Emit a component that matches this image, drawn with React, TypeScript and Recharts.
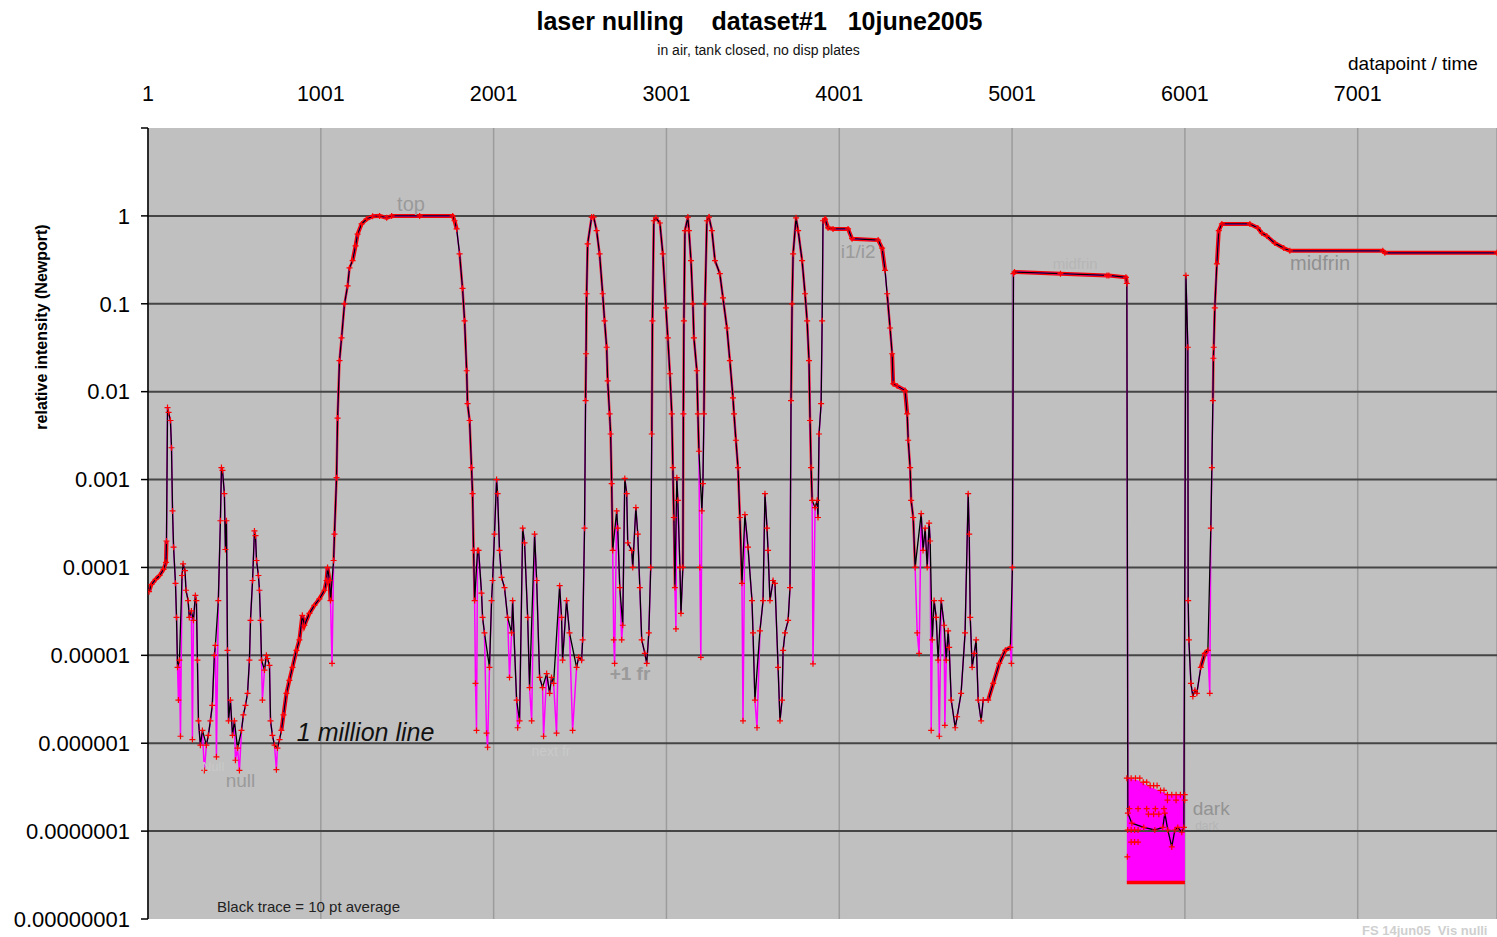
import React from 'react';
import { ComposedChart, Line, Area, XAxis, YAxis, CartesianGrid, ReferenceLine, ReferenceDot } from 'recharts';

const FONT = '"Liberation Sans", Arial, Helvetica, sans-serif';

// ---- axes ----
const xTicks = [1, 1001, 2001, 3001, 4001, 5001, 6001, 7001];
const yTicks = [1e-8, 1e-7, 1e-6, 1e-5, 1e-4, 1e-3, 1e-2, 1e-1, 1, 10];
const yTickLabels = ['0.00000001', '0.0000001', '0.000001', '0.00001', '0.0001', '0.001', '0.01', '0.1', '1', ''];
const gridDecades = [1e-7, 1e-6, 1e-5, 1e-4, 1e-3, 1e-2, 1e-1, 1];

// ---- black trace (10 pt average): [datapoint, intensity] ----
const traceStart: [number, number][] = [
  [7, 5.3e-5], [21, 6.4e-5], [45, 7.3e-5], [68, 8.1e-5], [91, 9.5e-5], [105, 1.14e-4], [108, 2.0e-4], [114, 6.6e-3],
  [120, 5.8e-3], [131, 4.7e-3], [137, 2.3e-3], [143, 4.4e-4], [149, 1.7e-4], [160, 6.6e-5], [166, 2.7e-5], [172, 7.3e-6],
  [183, 8.8e-6], [198, 8.1e-5], [204, 1.1e-4], [215, 9.2e-5], [221, 5.5e-5], [233, 4.2e-5], [240, 2.7e-5], [252, 3.2e-5],
  [264, 2.5e-5], [275, 4.8e-5], [281, 4.2e-5], [287, 8.8e-6], [293, 1.8e-6], [304, 9.5e-7], [316, 1.4e-6], [339, 9.5e-7],
  [350, 1.23e-6], [362, 1.8e-6], [373, 2.7e-6], [385, 1e-5], [391, 1.3e-5], [408, 4.2e-5], [420, 3.4e-4], [426, 1.37e-3],
  [432, 1.27e-3], [443, 6.9e-4], [449, 1.6e-4], [455, 3.4e-4], [461, 1.14e-5], [467, 1.8e-6], [478, 3.1e-6], [490, 1.23e-6],
  [501, 1.8e-6], [519, 8.8e-7], [542, 1.4e-6], [553, 2.1e-6], [565, 2.7e-6], [577, 3.7e-6], [588, 8.8e-6], [594, 2.5e-5],
  [606, 7.1e-5], [617, 2.6e-4], [623, 2.3e-4], [629, 1.2e-4], [640, 8.1e-5], [646, 5.5e-5], [652, 2.5e-5], [658, 8.8e-6],
  [675, 6.8e-6], [686, 1e-5], [692, 9.2e-6], [704, 7.7e-6], [710, 1.8e-6], [721, 1.23e-6], [733, 9.5e-7], [750, 8.8e-7],
  [762, 1.1e-6], [773, 1.4e-6], [785, 2.1e-6], [802, 3.7e-6], [819, 5.2e-6], [837, 7.3e-6], [860, 1.14e-5], [877, 1.5e-5],
  [894, 2.85e-5], [906, 2.2e-5], [935, 3.0e-5], [964, 3.7e-5], [993, 4.4e-5], [1022, 5.5e-5], [1034, 7.1e-5], [1040, 1.0e-4],
  [1051, 7.1e-5], [1057, 4.2e-5], [1075, 1.2e-4],
];
const traceTop: [number, number][] = [
  [1080, 2.4e-4], [1092, 1.05e-3], [1098, 5.0e-3], [1109, 2.25e-2], [1121, 4.1e-2], [1138, 0.1], [1156, 0.16], [1167, 0.256],
  [1185, 0.31], [1202, 0.456], [1214, 0.62], [1237, 0.81], [1266, 0.92], [1301, 0.99], [1341, 1.0], [1382, 0.95], [1411, 1.0],
  [1573, 1.0], [1764, 1.0], [1775, 0.88], [1787, 0.71], [1804, 0.37], [1821, 0.15], [1833, 0.064], [1845, 0.0173],
  [1850, 7.3e-3], [1862, 4.7e-3], [1873, 1.37e-3], [1879, 6.9e-4], [1885, 1.56e-4], [1891, 4.2e-5],
];
const traceFringes2k: [number, number][] = [
  [1908, 1.56e-4], [1914, 1.56e-4], [1931, 5.1e-5], [1937, 2.7e-5], [1948, 1.8e-5], [1977, 7.3e-6], [1989, 4.2e-5],
  [1995, 7.1e-5], [2006, 2.4e-4], [2018, 1.0e-3], [2024, 6.9e-4], [2035, 1.56e-4], [2047, 7.7e-5], [2064, 5.9e-5],
  [2082, 2.7e-5], [2105, 1.8e-5], [2111, 4.2e-5], [2134, 3.1e-6], [2151, 1.8e-6], [2169, 2.8e-4], [2180, 1.9e-4],
  [2198, 2.7e-5], [2209, 4.3e-6], [2238, 2.4e-4], [2250, 7.1e-5], [2267, 5.6e-6], [2284, 4.3e-6], [2308, 6.2e-6],
  [2325, 3.7e-6], [2336, 5.6e-6], [2348, 4.8e-6], [2383, 6.2e-5], [2394, 2.7e-5], [2400, 8.8e-6], [2423, 4.2e-5],
  [2440, 1.8e-5], [2481, 7.3e-6], [2493, 9.5e-6], [2510, 8.8e-6], [2516, 1.5e-5], [2527, 2.8e-4],
];
const traceFringes3k: [number, number][] = [
  [2533, 7.9e-3], [2536, 2.7e-2], [2539, 0.13], [2545, 0.48], [2568, 0.97], [2580, 0.97], [2597, 0.68], [2614, 0.37],
  [2632, 0.13], [2643, 0.064], [2655, 0.032], [2661, 0.0133], [2672, 5.6e-3], [2678, 3.3e-3], [2684, 9e-4], [2690, 1.56e-4],
  [2713, 4.4e-4], [2719, 2.8e-4], [2731, 5.9e-5], [2748, 2.2e-5], [2760, 1.03e-3], [2771, 6.9e-4], [2777, 1.9e-4],
  [2800, 1.56e-4], [2806, 1e-4], [2824, 4.8e-4], [2835, 2.4e-4], [2847, 5.9e-5], [2858, 1.5e-5], [2876, 1.05e-5],
  [2887, 8.1e-6], [2899, 1.8e-5], [2910, 1e-4], [2916, 3.3e-3], [2920, 0.064], [2928, 0.88], [2940, 0.95], [2963, 0.83],
  [2980, 0.37], [2998, 0.09], [3009, 0.041], [3021, 0.016], [3032, 5.6e-3], [3038, 1.37e-3], [3044, 3.7e-4], [3050, 5.9e-5],
  [3061, 1.05e-3], [3067, 5.8e-4], [3079, 1e-4], [3085, 3e-5], [3096, 1e-4], [3099, 5.6e-3], [3102, 0.064], [3108, 0.68],
  [3125, 0.97], [3131, 0.68], [3143, 0.31], [3154, 0.1], [3160, 0.041], [3177, 0.0173], [3183, 5.6e-3], [3189, 2.1e-3],
  [3206, 4.4e-4], [3212, 9e-4], [3218, 5.6e-3], [3224, 0.1], [3235, 0.88], [3247, 0.97], [3264, 0.68], [3282, 0.31],
  [3310, 0.22], [3328, 0.117], [3351, 0.053], [3368, 0.0225], [3386, 8.5e-3], [3392, 5.6e-3], [3403, 2.8e-3],
  [3415, 1.37e-3], [3426, 3.7e-4], [3438, 6.6e-5], [3455, 4e-4], [3473, 1.7e-4], [3496, 4.2e-5], [3502, 1.8e-5],
  [3513, 3.1e-6], [3542, 1.9e-5], [3560, 4.2e-5], [3571, 6.9e-4], [3583, 2.8e-4], [3589, 1.56e-4], [3600, 4.2e-5],
  [3618, 7.1e-5], [3629, 6.6e-5], [3647, 7.3e-6], [3658, 1.8e-6], [3670, 3.1e-6], [3676, 1.14e-5], [3687, 1.8e-5],
  [3705, 2.5e-5], [3716, 5.9e-5],
];
const traceI1I2: [number, number][] = [
  [3722, 7.9e-3], [3728, 0.1], [3734, 0.37], [3751, 0.95], [3763, 0.68], [3786, 0.31], [3803, 0.13], [3815, 0.064],
  [3826, 0.0225], [3832, 4.7e-3], [3838, 1.37e-3], [3844, 5.8e-4], [3861, 4.8e-4], [3873, 5.8e-4], [3878, 3.7e-4],
  [3884, 3.3e-3], [3896, 7.3e-3], [3902, 0.064], [3907, 0.88], [3919, 0.92], [3936, 0.73], [3965, 0.71], [4052, 0.71],
  [4075, 0.55], [4226, 0.53], [4249, 0.43], [4266, 0.24], [4278, 0.13], [4295, 0.053], [4307, 0.027], [4313, 0.0123],
  [4336, 0.0116], [4382, 0.0103], [4394, 5.6e-3], [4400, 2.8e-3], [4411, 1.37e-3], [4417, 5.8e-4], [4429, 3.7e-4],
  [4440, 1e-4],
];
const traceNulls5k: [number, number][] = [
  [4475, 4.1e-4], [4486, 1.56e-4], [4498, 2.8e-4], [4510, 1e-4], [4521, 3.2e-4], [4527, 2e-4], [4539, 1.5e-5],
  [4550, 4.2e-5], [4562, 2.7e-5], [4573, 8.8e-6], [4591, 4.2e-5], [4608, 2.2e-5], [4620, 8.8e-6], [4631, 1.9e-5],
  [4637, 1.23e-5], [4649, 3.1e-6], [4672, 1.5e-6], [4683, 2e-6], [4706, 3.7e-6], [4729, 1.8e-5], [4747, 6.9e-4],
  [4753, 2.4e-4], [4759, 2.7e-5], [4770, 7.3e-6], [4782, 1.05e-5], [4793, 1.5e-5], [4805, 3.1e-6], [4822, 1.8e-6],
  [4834, 3.1e-6], [4863, 3.1e-6], [4892, 4.8e-6], [4927, 8.1e-6], [4962, 1.14e-5], [4991, 1.23e-5], [5003, 1e-4],
];
const traceMid: [number, number][] = [
  [5009, 0.22], [5015, 0.23], [5281, 0.22], [5550, 0.21], [5561, 0.21], [5660, 0.2], [5665, 0.17],
];
const traceDark: [number, number][] = [
  [5671, 1.6e-7], [5694, 1.23e-7], [5763, 1.1e-7], [5827, 1.03e-7], [5873, 1.1e-7], [5885, 1.6e-7], [5902, 1.03e-7],
  [5925, 6.6e-8], [5943, 1.03e-7], [5960, 1.1e-7], [5983, 9.7e-8], [5995, 1.1e-7],
];
const traceTail: [number, number][] = [
  [6007, 0.21], [6018, 0.032], [6020, 4.2e-5], [6024, 1.5e-5], [6036, 4.8e-6], [6047, 3.4e-6], [6059, 4e-6], [6070, 3.7e-6],
  [6093, 7.3e-6], [6116, 1.05e-5], [6134, 1.14e-5], [6151, 2.8e-4], [6157, 1.37e-3], [6163, 7.9e-3], [6166, 0.024],
  [6168, 0.032], [6174, 0.09], [6186, 0.285], [6197, 0.68], [6215, 0.81], [6377, 0.81], [6423, 0.73], [6446, 0.64],
  [6475, 0.59], [6521, 0.49], [6573, 0.43], [6608, 0.4], [7146, 0.4], [7158, 0.38], [7806, 0.38],
];

// ---- raw single-point excursions (magenta spikes) ----
const spikes: [number, number][] = [
  [177, 3.1e-6], [189, 1.2e-6], [258, 1.1e-6], [327, 4.9e-7], [397, 7e-7], [507, 6.4e-7], [530, 4.9e-7], [663, 3.1e-6],
  [744, 5e-7], [1066, 8.1e-6], [1896, 4.8e-6], [1902, 1.4e-6], [1960, 1.3e-6], [1966, 9e-7], [2093, 5.6e-6],
  [2140, 1.5e-6], [2221, 1.8e-6], [2290, 1.2e-6], [2365, 1.3e-6], [2458, 1.4e-6], [2696, 1.5e-5], [2701, 8.1e-6],
  [2742, 1.5e-5], [3056, 2.0e-5], [3194, 1e-4], [3200, 9.5e-6], [3444, 1.8e-6], [3525, 1.5e-6], [3849, 8e-6],
  [4452, 1.8e-5], [4463, 1.05e-5], [4533, 1.4e-6], [4580, 1.2e-6], [4612, 1.6e-6], [4997, 8.1e-6], [6145, 3.7e-6],
];

// ---- dark block ----
const darkDp = [5665, 5729, 5781, 5850, 5914, 6001];
const darkHigh = [4.0e-7, 3.8e-7, 3.3e-7, 2.9e-7, 2.6e-7, 2.6e-7];
const darkLow = [2.6e-8, 2.6e-8, 2.6e-8, 2.6e-8, 2.6e-8, 2.6e-8];
const darkMarks: [number, number][] = [
  [5665, 4.0e-7], [5690, 4.0e-7], [5715, 4.0e-7], [5740, 4.0e-7], [5760, 3.6e-7], [5780, 3.6e-7], [5800, 3.3e-7],
  [5820, 3.3e-7], [5840, 3.3e-7], [5860, 2.9e-7], [5880, 2.9e-7], [5900, 2.6e-7], [5925, 2.6e-7], [5950, 2.6e-7],
  [5975, 2.6e-7], [6000, 2.6e-7], [5900, 2.25e-7], [5950, 2.25e-7], [6000, 2.25e-7], [5680, 1.8e-7], [5730, 1.8e-7],
  [5780, 1.8e-7], [5830, 1.8e-7], [5880, 1.8e-7], [5790, 1.56e-7], [5820, 1.56e-7], [5850, 1.56e-7], [5670, 1.03e-7],
  [5690, 1.03e-7], [5710, 1.03e-7], [5730, 1.03e-7], [5690, 7.5e-8], [5710, 7.5e-8], [5730, 7.5e-8], [5668, 5.1e-8],
];
const darkFloor: [number, number][] = [[5665, 2.6e-8], [6001, 2.6e-8]];

// dp ranges where the raw crosses pile up into a solid red band
const plateauRanges: [number, number][] = [
  [1, 110], [770, 1060], [1185, 1790], [3907, 4270], [4307, 4394], [4850, 4997], [5009, 5665], [6090, 6140], [6186, 7807],
];
// dp ranges where the crosses are dense but thinner (slopes)
const slopeRanges: [number, number][] = [
  [1075, 1185], [1790, 1891], [2533, 2690], [2916, 3050], [3096, 3189], [3218, 3438], [3722, 3844], [4270, 4307],
  [4394, 4440], [6163, 6186],
];

type P = { dp: number; v: number };
const toPts = (a: [number, number][]): P[] => a.map(([dp, v]) => ({ dp, v }));
const avgData: P[] = toPts([
  ...traceStart, ...traceTop, ...traceFringes2k, ...traceFringes3k, ...traceI1I2, ...traceNulls5k, ...traceMid,
  ...traceDark, ...traceTail,
]);
const rawData: P[] = [...avgData, ...toPts(spikes)].sort((a, b) => a.dp - b.dp);
const pick = (r: [number, number][]) => r.map(([a, b]) => avgData.filter((p) => p.dp >= a && p.dp <= b));
const plateauBands = pick(plateauRanges);
const slopeBands = pick(slopeRanges);
const darkData = darkDp.map((dp, i) => ({ dp, range: [darkLow[i], darkHigh[i]] }));

// annotations (data coordinates)
const annotations = [
  { dp: 1523, v: 1.37, text: 'top', size: 20, color: '#9a9a9a' },
  { dp: 4110, v: 0.39, text: 'i1/i2', size: 19, color: '#9a9a9a' },
  { dp: 6783, v: 0.292, text: 'midfrin', size: 20, color: '#909090' },
  { dp: 5366, v: 0.285, text: 'midfrin', size: 15, color: '#b6b6b6' },
  { dp: 2790, v: 6.2e-6, text: '+1 fr', size: 19, color: '#9a9a9a', bold: true },
  { dp: 536, v: 3.8e-7, text: 'null', size: 19, color: '#9a9a9a' },
  { dp: 378, v: 5.4e-7, text: 'Null', size: 13, color: '#c9c9c9' },
  { dp: 2333, v: 8.1e-7, text: 'next fr', size: 14, color: '#c9c9c9' },
  { dp: 6153, v: 1.8e-7, text: 'dark', size: 19, color: '#939393' },
  { dp: 6128, v: 1.15e-7, text: 'dark', size: 12, color: '#b4b4b4' },
  { dp: 862, v: 1.33e-6, text: '1 million line', size: 25, color: '#111', anchor: 'start', italic: true },
  { dp: 400, v: 1.37e-8, text: 'Black trace = 10 pt average', size: 15, color: '#222', anchor: 'start' },
];

const Cross = (props: any) => {
  const { cx, cy, index } = props;
  if (cx == null || cy == null || isNaN(cx) || isNaN(cy)) return <g key={`c${index}`} />;
  return (
    <path key={`c${index}`} d={`M${cx - 3},${cy}h6M${cx},${cy - 3}v6`} stroke="#ff0000" strokeWidth={1.2} fill="none" />
  );
};

const makeLabel = (a: any) => (props: any) => {
  const vb = props.viewBox || {};
  const x = (vb.x ?? 0) + (vb.width ?? 0) / 2;
  const y = (vb.y ?? 0) + (vb.height ?? 0) / 2;
  return (
    <text
      x={x}
      y={y}
      dy="0.35em"
      textAnchor={a.anchor || 'middle'}
      fontSize={a.size}
      fill={a.color}
      fontStyle={a.italic ? 'italic' : 'normal'}
      fontWeight={a.bold ? 'bold' : 'normal'}
      fontFamily={FONT}
    >
      {a.text}
    </text>
  );
};

const yFmt = (v: number) => {
  const i = yTicks.findIndex((t) => Math.abs(Math.log10(t) - Math.log10(v)) < 1e-6);
  return i >= 0 ? yTickLabels[i] : '';
};

export default function App() {
  return (
    <div style={{ position: 'fixed', left: 0, top: 0, width: 1497, height: 937, overflow: 'hidden', background: '#fff', fontFamily: FONT }}>
      <div style={{ position: 'absolute', left: 8, top: 8 }}>
        <ComposedChart width={1489} height={929} margin={{ top: 0, right: 0, bottom: 18, left: 0 }}>
          <CartesianGrid horizontal={false} stroke="#9c9c9c" strokeWidth={1.5} fill="#c0c0c0" />
          <XAxis
            xAxisId={0}
            dataKey="dp"
            type="number"
            orientation="top"
            domain={[1, 7807]}
            ticks={xTicks}
            allowDataOverflow
            height={120}
            tickLine={false}
            axisLine={false}
            tickSize={0}
            tickMargin={27}
            tick={{ fontSize: 21.5, fill: '#000', fontFamily: FONT }}
          />
          <YAxis
            yAxisId={0}
            type="number"
            scale="log"
            domain={[1e-8, 10]}
            ticks={yTicks}
            allowDataOverflow
            width={140}
            tickFormatter={yFmt}
            axisLine={{ stroke: '#000', strokeWidth: 1.5 }}
            tickLine={{ stroke: '#000', strokeWidth: 1.5 }}
            tickSize={7}
            tickMargin={11}
            tick={{ fontSize: 22, fill: '#000', fontFamily: FONT }}
          />
          {gridDecades.map((d) => (
            <ReferenceLine key={d} y={d} stroke="#454545" strokeWidth={2} />
          ))}
          <Area
            data={darkData}
            dataKey="range"
            type="linear"
            stroke="none"
            fill="#ff00ff"
            fillOpacity={1}
            isAnimationActive={false}
          />
          <Line data={toPts(darkFloor)} dataKey="v" stroke="#ff0000" strokeWidth={3.5} dot={false} isAnimationActive={false} />
          {plateauBands.map((b, i) => (
            <Line key={`pband${i}`} data={b} dataKey="v" type="linear" stroke="#ff0000" strokeWidth={4} dot={false} isAnimationActive={false} />
          ))}
          {slopeBands.map((b, i) => (
            <Line key={`sband${i}`} data={b} dataKey="v" type="linear" stroke="#ff2020" strokeWidth={2.5} dot={false} isAnimationActive={false} />
          ))}
          <Line data={rawData} dataKey="v" type="linear" stroke="#ff00ff" strokeWidth={1.5} dot={Cross} isAnimationActive={false} />
          <Line data={toPts(darkMarks)} dataKey="v" type="linear" stroke="none" dot={Cross} isAnimationActive={false} />
          <Line data={avgData} dataKey="v" type="linear" stroke="#000" strokeWidth={1.3} dot={false} isAnimationActive={false} />
          {annotations.map((a, i) => (
            <ReferenceDot key={`ann${i}`} x={a.dp} y={a.v} r={1} fill="none" stroke="none" label={makeLabel(a)} />
          ))}
        </ComposedChart>
      </div>
      <div style={{ position: 'absolute', left: 0, width: 1519, top: 9, textAlign: 'center', fontSize: 25, fontWeight: 'bold', lineHeight: 1, whiteSpace: 'pre', color: '#000' }}>
        {'laser nulling    dataset#1   10june2005'}
      </div>
      <div style={{ position: 'absolute', left: 0, width: 1517, top: 43, textAlign: 'center', fontSize: 14, lineHeight: 1, whiteSpace: 'pre', color: '#111' }}>
        in air, tank closed, no disp plates
      </div>
      <div style={{ position: 'absolute', left: 1348, top: 54, fontSize: 19, lineHeight: 1, whiteSpace: 'pre', color: '#000' }}>
        datapoint / time
      </div>
      <div style={{ position: 'absolute', left: 42, top: 327, transform: 'translate(-50%, -50%) rotate(-90deg)', fontSize: 16, fontWeight: 'bold', lineHeight: 1, whiteSpace: 'nowrap', color: '#000' }}>
        relative intensity (Newport)
      </div>
      <div style={{ position: 'absolute', left: 1362, top: 924, fontSize: 13, fontWeight: 'bold', lineHeight: 1, whiteSpace: 'pre', color: '#cfcfcf' }}>
        {'FS 14jun05  Vis nulli'}
      </div>
    </div>
  );
}
